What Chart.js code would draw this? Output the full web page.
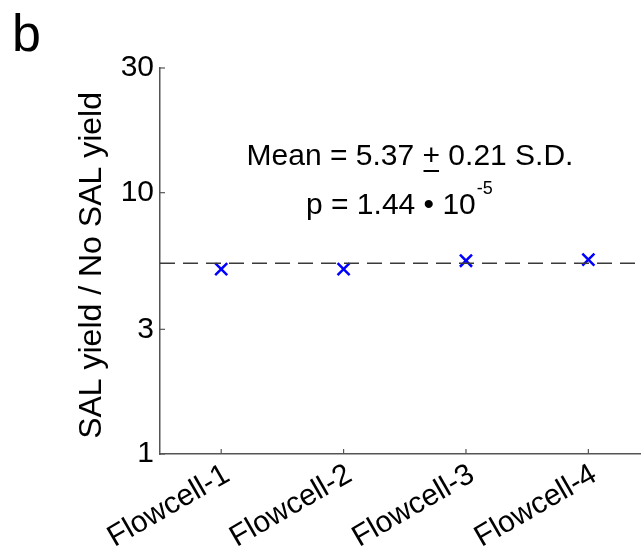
<!DOCTYPE html>
<html>
<head>
<meta charset="utf-8">
<script src="https://cdn.jsdelivr.net/npm/chart.js@4.4.1/dist/chart.umd.min.js"></script>
<style>
  html, body { margin: 0; padding: 0; background: #fff; overflow: hidden; }
  #wrap { width: 641px; height: 547px; position: relative; overflow: hidden; }
  #grafica { display: block; }
</style>
</head>
<body>
<div id="wrap"><canvas id="grafica"></canvas></div>
<script>
// datos
const categories = ['Flowcell-1', 'Flowcell-2', 'Flowcell-3', 'Flowcell-4'];
const ratioValues = [5.10, 5.10, 5.49, 5.54];
const meanRatio = 5.37;
const yTicks = [1, 3, 10, 30];
const xMin = 0.5, xMax = 4.43;

const FONT = 'Liberation Sans, Arial, sans-serif';
const AXIS_COLOR = '#555555';

// marcas hacia dentro, letra del panel y anotaciones
const extras = {
    id: 'extras',
    afterDraw(chart) {
        const ctx = chart.ctx;
        const x = chart.scales.x, y = chart.scales.y;
        const area = chart.chartArea;
        ctx.save();
        ctx.strokeStyle = AXIS_COLOR;
        ctx.lineWidth = 1.2;
        categories.forEach((c, i) => {
            const px = x.getPixelForValue(i + 1);
            ctx.beginPath();
            ctx.moveTo(px, area.bottom);
            ctx.lineTo(px, area.bottom - 5);
            ctx.stroke();
        });
        yTicks.forEach(v => {
            const py = y.getPixelForValue(v);
            ctx.beginPath();
            ctx.moveTo(area.left, py);
            ctx.lineTo(area.left + 5, py);
            ctx.stroke();
        });

        ctx.fillStyle = '#000';
        ctx.font = '52px ' + FONT;
        ctx.textBaseline = 'alphabetic';
        ctx.textAlign = 'left';
        ctx.fillText('b', 12, 51);

        // Mean = 5.37 ± 0.21 S.D.
        ctx.font = '30px ' + FONT;
        const p1 = 'Mean = 5.37 ', p2 = '+', p3 = ' 0.21 S.D.';
        const w1 = ctx.measureText(p1).width, w2 = ctx.measureText(p2).width, w3 = ctx.measureText(p3).width;
        let sx = 410 - (w1 + w2 + w3) / 2;
        ctx.fillText(p1, sx, 165);
        ctx.fillText(p2, sx + w1, 165);
        ctx.fillText(p3, sx + w1 + w2, 165);
        ctx.fillRect(sx + w1 + 1, 170, w2 - 2, 2);

        // p = 1.44 • 10^-5
        const q = 'p = 1.44 \u2022 10';
        ctx.fillText(q, 306, 214);
        const wq = ctx.measureText(q).width;
        ctx.font = '18px ' + FONT;
        ctx.fillText('-5', 306 + wq + 1, 194);
        ctx.restore();
    }
};

const ctx = document.getElementById('grafica').getContext('2d');
const chart = new Chart(ctx, {
    type: 'scatter',
    data: {
        datasets: [
            {
                label: 'Media',
                type: 'line',
                data: [{ x: xMin, y: meanRatio }, { x: xMax, y: meanRatio }],
                borderColor: '#3a3a3a',
                borderWidth: 1.6,
                borderDash: [15, 8],
                pointRadius: 0,
                fill: false
            },
            {
                label: 'SAL / No SAL',
                data: ratioValues.map((v, i) => ({ x: i + 1, y: v })),
                pointStyle: 'crossRot',
                pointRadius: 8.5,
                pointBorderWidth: 2.5,
                borderColor: '#0000ff',
                backgroundColor: '#0000ff'
            }
        ]
    },
    options: {
        responsive: true,
        maintainAspectRatio: false,
        animation: false,
        layout: { autoPadding: false, padding: { top: 68, left: 0, right: 0, bottom: 0 } },
        plugins: {
            legend: { display: false },
            tooltip: { enabled: false }
        },
        scales: {
            x: {
                type: 'linear',
                min: xMin,
                max: xMax,
                afterBuildTicks: s => { s.ticks = categories.map((c, i) => ({ value: i + 1 })); },
                afterFit: s => { s.height = 93; },
                grid: { display: false, drawTicks: false },
                border: { display: true, color: AXIS_COLOR, width: 1.5 },
                ticks: {
                    color: '#000',
                    font: { family: FONT, size: 30 },
                    maxRotation: 30,
                    minRotation: 30,
                    padding: 3,
                    labelOffset: 6,
                    callback: v => categories[v - 1] || ''
                }
            },
            y: {
                type: 'logarithmic',
                min: 1,
                max: 30,
                afterBuildTicks: s => { s.ticks = yTicks.map(v => ({ value: v })); },
                afterFit: s => { s.width = 160; },
                grid: { display: false, drawTicks: false },
                border: { display: true, color: AXIS_COLOR, width: 1.5 },
                ticks: {
                    color: '#000',
                    font: { family: FONT, size: 30 },
                    padding: 6,
                    callback: v => String(v)
                },
                title: {
                    display: true,
                    text: 'SAL yield / No SAL yield ',
                    color: '#000',
                    font: { family: FONT, size: 32 },
                    padding: { top: 73 }
                }
            }
        }
    },
    plugins: [extras]
});
</script>
</body>
</html>
